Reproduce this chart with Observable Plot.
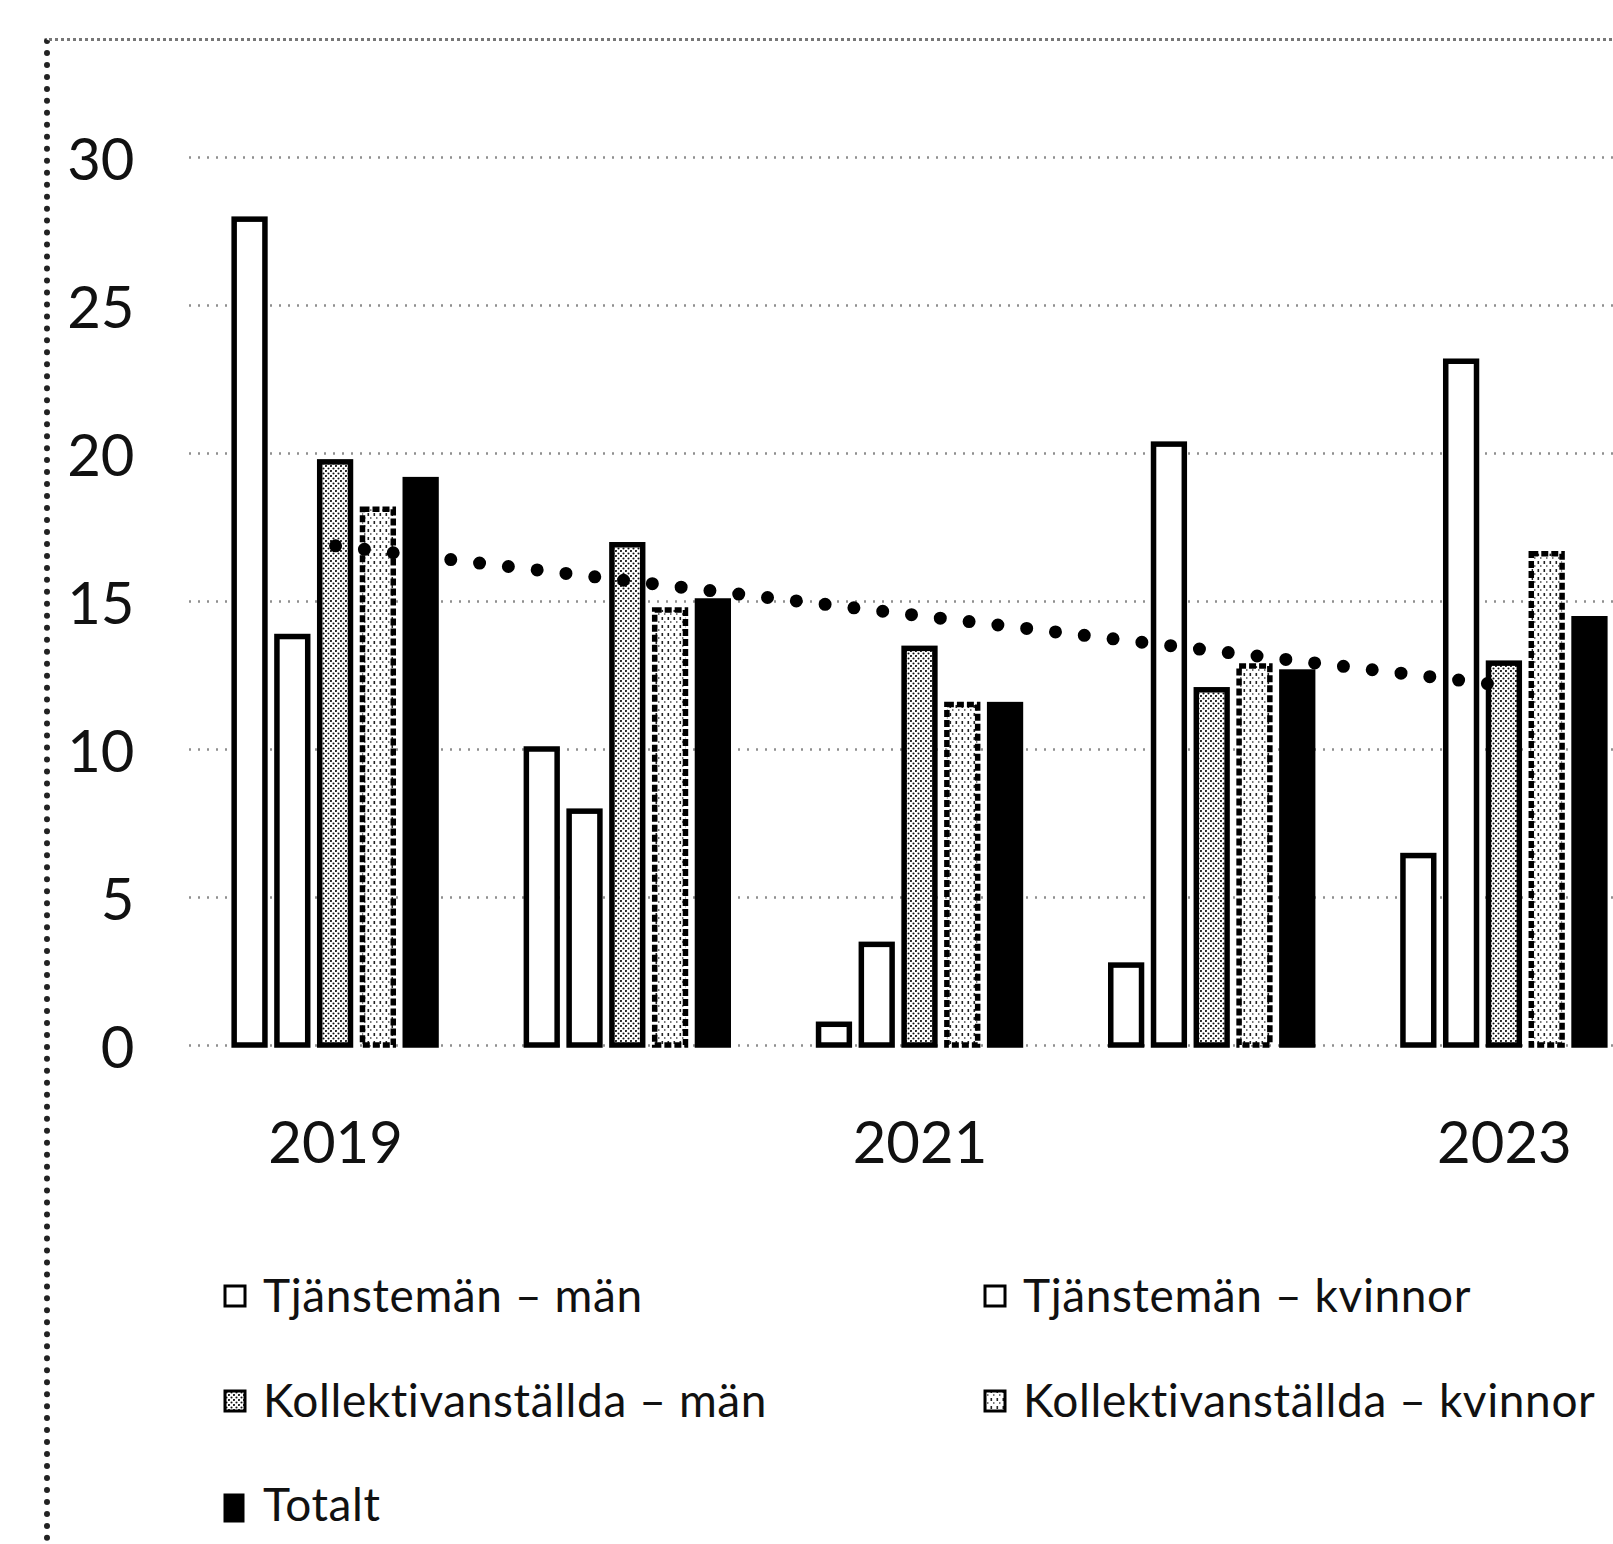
<!DOCTYPE html>
<html>
<head>
<meta charset="utf-8">
<script src="https://cdn.jsdelivr.net/npm/d3@7"></script>
<script src="https://cdn.jsdelivr.net/npm/@observablehq/plot@0.6"></script>
<style>
html, body { margin: 0; padding: 0; background: #fff; overflow: hidden; }
#wrap { position: relative; width: 1613px; height: 1544px; overflow: hidden; font-family: Lato, "Open Sans", sans-serif; background: #fff; }
#chart { position: absolute; left: 0; top: 0; width: 1680px; }
#chart svg { max-width: none !important; }
#frame { position: absolute; left: 44px; top: 38px; width: 1700px; height: 1600px; border-left: 6px dotted #222; border-top: 3px dotted #777; box-sizing: border-box; }
.item { position: absolute; font-size: 46px; line-height: 46px; letter-spacing: 0.6px; color: #111; white-space: nowrap; }
.sw { position: absolute; }
</style>
</head>
<body>
<div id="wrap">
  <div id="frame"></div>
  <div id="chart"></div>
  <div id="legend"></div>
</div>
<script>
// ---- data ----
const years = [2019, 2020, 2021, 2022, 2023];
const xTickLabels = [2019, 2021, 2023];
const yTickValues = [0, 5, 10, 15, 20, 25, 30];
const seriesNames = [
  "Tjänstemän – män",
  "Tjänstemän – kvinnor",
  "Kollektivanställda – män",
  "Kollektivanställda – kvinnor",
  "Totalt"
];
const tjanstemanMan      = [27.9, 10.0, 0.7, 2.7, 6.4];
const tjanstemanKvinnor  = [13.8, 7.9, 3.4, 20.3, 23.1];
const kollektivMan       = [19.7, 16.9, 13.4, 12.0, 12.9];
const kollektivKvinnor   = [18.1, 14.7, 11.5, 12.8, 16.6];
const totalt             = [19.1, 15.0, 11.5, 12.6, 14.4];

// ---- styles (kept apart from data) ----
const seriesValues = [tjanstemanMan, tjanstemanKvinnor, kollektivMan, kollektivKvinnor, totalt];
const fills = ["#ffffff", "#ffffff", "url(#pKm)", "url(#pKk)", "#000000"];
const strokeDash = [null, null, null, "7,3", null];
const groupHalf = 0.366;
const slot = (2 * groupHalf) / seriesNames.length;

const rows = [];
seriesValues.forEach((vals, i) => {
  vals.forEach((v, j) => {
    rows.push({
      series: seriesNames[i], idx: i, year: years[j], value: v,
      x1: years[j] - groupHalf + i * slot,
      x2: years[j] - groupHalf + (i + 1) * slot
    });
  });
});
const totRows = years.map((y, j) => ({year: y, value: totalt[j]}));

const barMarks = seriesNames.map((name, i) =>
  Plot.rectY(rows.filter(d => d.idx === i), {
    x1: "x1", x2: "x2", y1: 0, y2: "value",
    fill: () => fills[i],
    stroke: "#000",
    strokeWidth: 5.5,
    strokeDasharray: strokeDash[i] || undefined,
    insetLeft: 6, insetRight: 6
  })
);

const plot = Plot.plot({
  width: 1680,
  height: 1200,
  marginLeft: 189,
  marginRight: 30,
  marginTop: 157,
  marginBottom: 155,
  style: {fontFamily: "Lato, 'Open Sans', sans-serif", fontSize: "58px", color: "#111", background: "transparent", overflow: "visible", maxWidth: "none"},
  x: {domain: [2018.5, 2023.5]},
  y: {domain: [0, 30]},
  color: {type: "identity"},
  marks: [
    Plot.ruleY(yTickValues, {stroke: "#444", strokeWidth: 2.5, strokeDasharray: "2,7", strokeOpacity: 0.6}),
    ...barMarks,
    Plot.linearRegressionY(totRows, {x: "year", y: "value", stroke: "#000", strokeWidth: 13, strokeDasharray: "0,29", strokeLinecap: "round", ci: 0}),
    Plot.axisX(xTickLabels, {tickSize: 0, tickPadding: 76, tickFormat: d => String(d), label: null, fontSize: 58}),
    Plot.axisY(yTickValues, {tickSize: 0, tickPadding: 55, label: null, fontSize: 58, dy: 4})
  ]
});

plot.style.maxWidth = "none";
plot.insertAdjacentHTML("afterbegin", `
<defs>
  <pattern id="pKm" width="5" height="5" patternUnits="userSpaceOnUse">
    <rect width="5" height="5" fill="#fff"/>
    <circle cx="1" cy="1" r="1.05" fill="#111"/>
    <circle cx="3.5" cy="3.5" r="1.05" fill="#111"/>
  </pattern>
  <pattern id="pKk" width="6" height="8" patternUnits="userSpaceOnUse">
    <rect width="6" height="8" fill="#fff"/>
    <rect x="1.5" y="1" width="1.6" height="3" fill="#222"/>
    <rect x="4.2" y="5" width="1.2" height="2" fill="#555"/>
  </pattern>
</defs>`);

document.getElementById("chart").appendChild(plot);

// ---- legend (HTML below the plot area) ----
const legendPos = [
  {x: 223, top: 1272}, {x: 983, top: 1272},
  {x: 223, top: 1377}, {x: 983, top: 1377},
  {x: 223, top: 1481}
];
const legend = document.getElementById("legend");
seriesNames.forEach((name, i) => {
  const p = legendPos[i];
  const sw = document.createElementNS("http://www.w3.org/2000/svg", "svg");
  sw.setAttribute("class", "sw");
  sw.setAttribute("width", 26);
  sw.setAttribute("height", 30);
  sw.style.left = p.x + "px";
  sw.style.top = (p.top + 12) + "px";
  sw.innerHTML = `<rect x="2" y="2" width="${i === 4 ? 18 : 20}" height="${i === 4 ? 26 : 20}" fill="${fills[i]}" stroke="#000" stroke-width="3"/>`;
  legend.appendChild(sw);
  const t = document.createElement("div");
  t.className = "item";
  t.style.left = (p.x + 40) + "px";
  t.style.top = p.top + "px";
  t.textContent = name;
  legend.appendChild(t);
});
</script>
</body>
</html>
